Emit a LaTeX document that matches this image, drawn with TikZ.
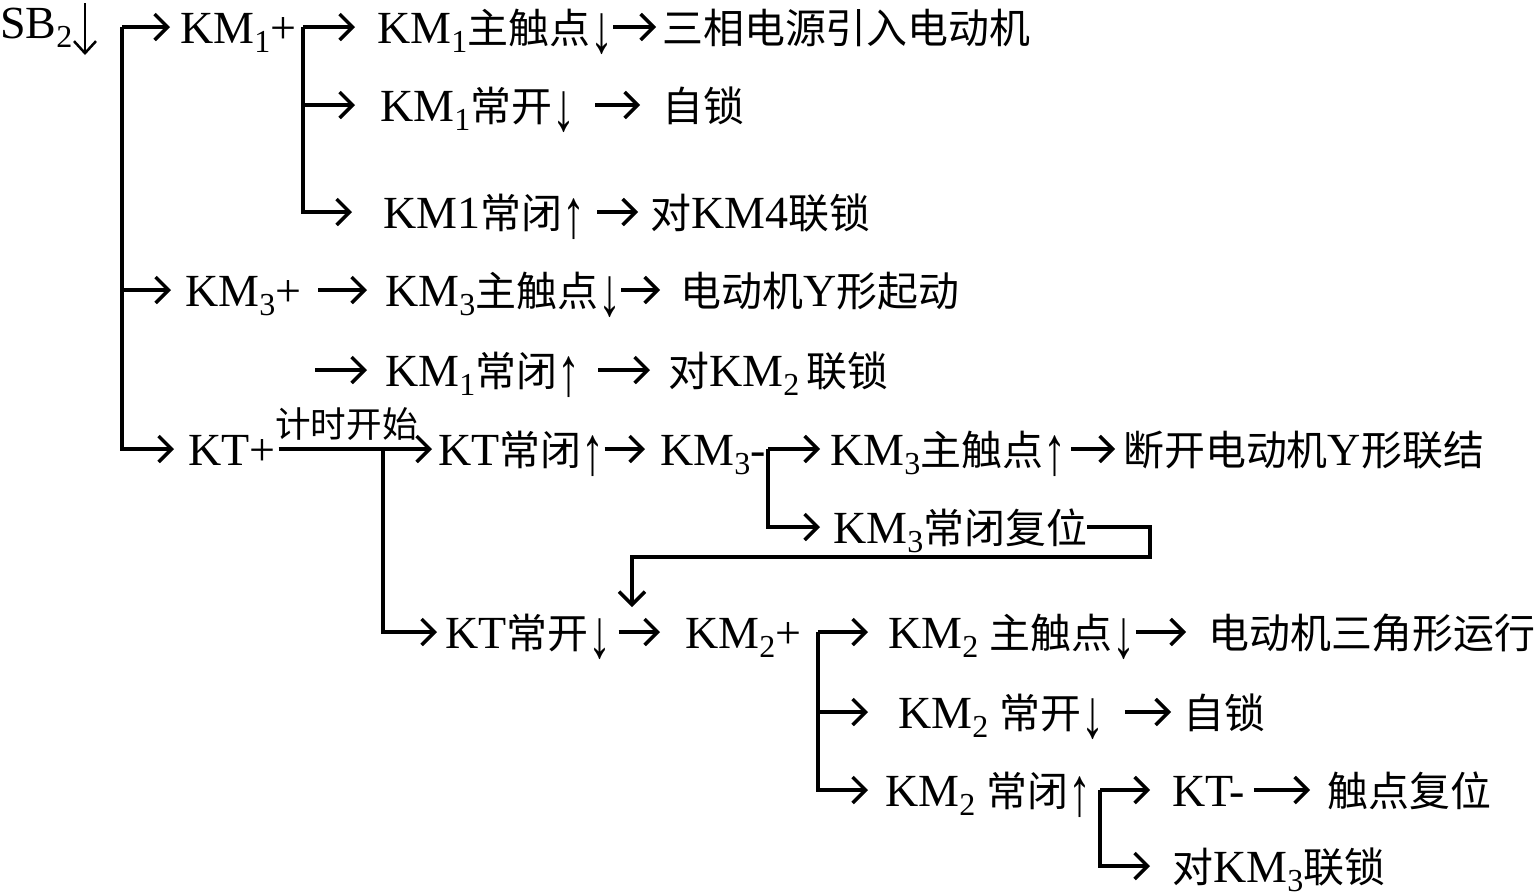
\documentclass[tikz,border=0pt]{standalone}
\usepackage{fontspec}
\usepackage{graphicx}
\setmainfont{Liberation Serif}
\newfontfamily\cjk[Scale=0.89]{Noto Sans CJK SC}
\usetikzlibrary{arrows.meta}
\newcommand\zh[1]{{\cjk #1}}
\newcommand\sbn[1]{\raisebox{-9pt}{\fontsize{32}{32}\selectfont #1}}
\newcommand\dn{\raisebox{-9pt}{\scalebox{1}[1.5]{↓}}}
\newcommand\up{\raisebox{-9pt}{\scalebox{1}[1.5]{↑}}}
\begin{document}
\begin{tikzpicture}[x=1pt,y=-1pt,
 lbl/.style={inner sep=0pt, anchor=west, text height=40pt, text depth=8pt, font=\fontsize{46}{50}\selectfont},
 small/.style={inner sep=0pt, anchor=south west, font=\fontsize{40}{44}\selectfont},
 arr/.style={line width=3.5pt, -{Straight Barb[length=13pt,width=26pt]}},
 ln/.style={line width=3.5pt}]
\useasboundingbox (0,0) rectangle (1537,895);

% SB2
\node[lbl] (sb2) at (0,22) {SB\sbn{2}};
\coordinate (sbarr) at (85,3);
\draw[line width=2.5pt, -{Straight Barb[length=12pt,width=22pt]}] (sbarr) -- ++(0,52);

% level 1 bracket
\coordinate (b0) at (122,27);
\node[lbl] (km1p) at (180,27) {KM\sbn{1}+};
\node[lbl] (km3p) at (185,290) {KM\sbn{3}+};
\node[lbl] (ktp) at (188,449) {KT+};
\draw[arr] (b0) -- ([xshift=-10pt]km1p.west);
\draw[arr] (b0) |- ([xshift=-14pt]km3p.west);
\draw[arr] (b0) |- ([xshift=-14pt]ktp.west);

% KM1 bracket
\coordinate (b1) at (303,27);
\node[lbl] (km1a) at (377,27) {KM\sbn{1}\zh{主触点}\dn};
\node[lbl] (km1b) at (380,105) {KM\sbn{1}\zh{常开}\dn};
\node[lbl] (km1c) at (383,212) {KM1\zh{常闭}\up};
\draw[arr] (b1) -- ([xshift=-22pt]km1a.west);
\draw[arr] (b1) |- ([xshift=-25pt]km1b.west);
\draw[arr] (b1) |- ([xshift=-31pt]km1c.west);
\node[lbl] (r1) at (662,27) {\zh{三相电源引入电动机}};
\draw[arr, shorten >=6pt] (km1a.east) -- (r1.west);
\node[lbl] (zs1) at (662,105) {\zh{自锁}};
\draw[arr, shorten <=20pt, shorten >=22pt] (km1b.east) -- (zs1.west);
\node[lbl] (r3) at (650,212) {\zh{对}KM4\zh{联锁}};
\draw[arr, shorten <=12pt, shorten >=12pt] (km1c.east) -- (r3.west);

% KM3+
\node[lbl] (km3a) at (385,290) {KM\sbn{3}\zh{主触点}\dn};
\draw[arr, shorten <=17pt, shorten >=18pt] (km3p.east) -- (km3a.west);
\node[lbl] (r4) at (680,290) {\zh{电动机}Y\zh{形起动}};
\draw[arr, shorten >=20pt] (km3a.east) -- (r4.west);
\coordinate (c5) at (315,370);
\node[lbl] (km1d) at (385,370) {KM\sbn{1}\zh{常闭}\up};
\draw[arr, shorten >=18pt] (c5) -- (km1d.west);
\node[lbl] (r5) at (668,370) {\zh{对}KM\sbn{2}\,\zh{联锁}};
\draw[arr, shorten <=18pt, shorten >=18pt] (km1d.east) -- (r5.west);

% KT+
\node[lbl] (ktnc) at (438,449) {KT\zh{常闭}\up};
\draw[arr, shorten <=3pt, shorten >=6pt] (ktp.east) -- (ktnc.west);
\node[small] (jskc) at (275,441) {\zh{计时开始}};
\coordinate (b2) at (383,449);
\node[lbl] (ktno) at (445,632) {KT\zh{常开}\dn};
\draw[arr] (b2) |- ([xshift=-8pt]ktno.west);
\node[lbl] (km3m) at (660,449) {KM\sbn{3}-};
\draw[arr, shorten >=15pt] (ktnc.east) -- (km3m.west);
\coordinate (b3) at (768,449);
\node[lbl] (km3a2) at (830,449) {KM\sbn{3}\zh{主触点}\up};
\node[lbl] (km3b) at (833,527) {KM\sbn{3}\zh{常闭复位}};
\draw[arr] (b3) -- ([xshift=-10pt]km3a2.west);
\draw[arr] (b3) |- ([xshift=-13pt]km3b.west);
\node[lbl] (r6) at (1123,449) {\zh{断开电动机}Y\zh{形联结}};
\draw[arr, shorten <=5pt, shorten >=8pt] (km3a2.east) -- (r6.west);

% loop back
\coordinate (j1) at (632,632);
\draw[arr, shorten >=25pt] (km3b.east) -| (1150,557) -| (j1);

% KM2+
\node[lbl] (km2p) at (685,632) {KM\sbn{2}+};
\draw[arr, shorten <=7pt, shorten >=25pt] (ktno.east) -- (km2p.west);
\coordinate (b4) at (818,632);
\node[lbl] (km2a) at (888,632) {KM\sbn{2}\ \zh{主触点}\dn};
\node[lbl] (km2b) at (898,712) {KM\sbn{2}\ \zh{常开}\dn};
\node[lbl] (km2c) at (885,790) {KM\sbn{2}\ \zh{常闭}\up};
\draw[arr] (b4) -- ([xshift=-20pt]km2a.west);
\draw[arr] (b4) |- ([xshift=-30pt]km2b.west);
\draw[arr] (b4) |- ([xshift=-17pt]km2c.west);
\node[lbl] (r8) at (1208,632) {\zh{电动机三角形运行}};
\draw[arr, shorten >=22pt] (km2a.east) -- (r8.west);
\node[lbl] (zs2) at (1183,712) {\zh{自锁}};
\draw[arr, shorten <=20pt, shorten >=12pt] (km2b.east) -- (zs2.west);
\coordinate (b5) at (1100,790);
\node[lbl] (ktm) at (1172,790) {KT-};
\node[lbl] (dui3) at (1172,866) {\zh{对}KM\sbn{3}\zh{联锁}};
\draw[arr] (b5) -- ([xshift=-22pt]ktm.west);
\draw[arr] (b5) |- ([xshift=-22pt]dui3.west);
\node[lbl] (r10) at (1327,790) {\zh{触点复位}};
\draw[arr, shorten <=9pt, shorten >=17pt] (ktm.east) -- (r10.west);
\end{tikzpicture}
\end{document}
